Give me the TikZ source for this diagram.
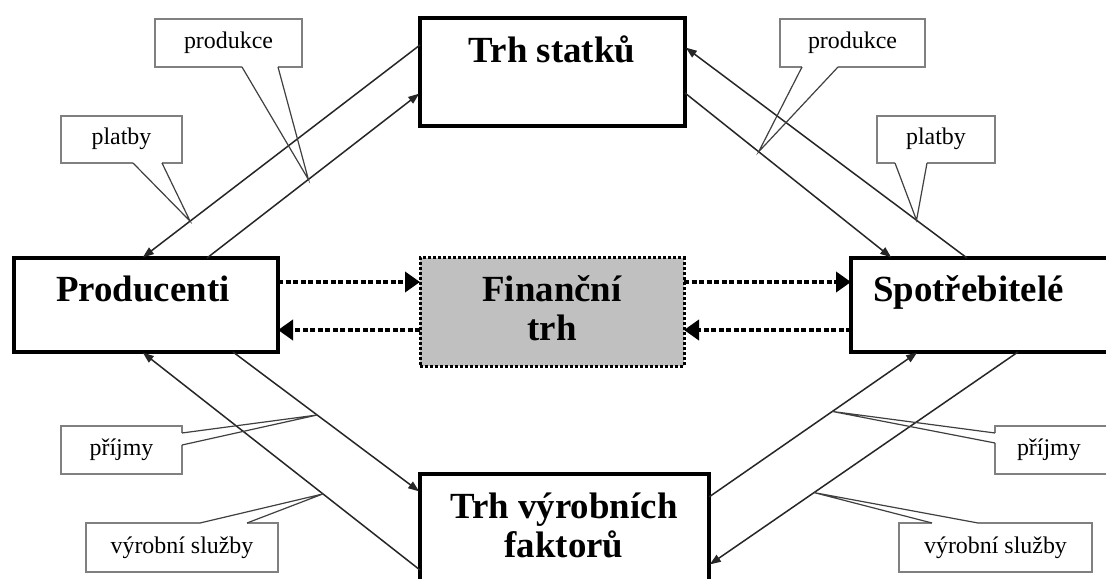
\documentclass[tikz,border=0pt]{standalone}
\usepackage{fontspec}
\setmainfont{Liberation Serif}
\usetikzlibrary{arrows.meta}
\definecolor{fingray}{HTML}{C0C0C0}
\definecolor{callgray}{HTML}{808080}
\begin{document}
\begin{tikzpicture}[x=1bp,y=-1bp,
  mainbox/.style={draw=black, line width=3.5bp, fill=white, inner sep=0pt, outer sep=0pt, anchor=north west},
  big/.style={font=\fontsize{37}{38}\selectfont\bfseries, inner sep=0pt},
  small/.style={font=\fontsize{24}{26}\selectfont, text height=16bp, text depth=5bp},
  callout/.style={draw=callgray, line width=2.5bp, fill=white, inner sep=0pt, outer sep=0pt, anchor=north west, small},
  flow/.style={draw=black!85, line width=1.5bp, -{Triangle[length=11bp,width=8bp]}},
  fin/.style={draw=black, line width=4bp, dash pattern=on 5bp off 2.5bp, -{Triangle[length=15bp,width=20bp]}},
  wedge/.style={draw=black!75, line width=1.2bp},
  gap/.style={draw=white, line width=3.2bp}]
\useasboundingbox (0,0) rectangle (1106,579);
\clip (0,0) rectangle (1106,579);
\fill[white] (0,0) rectangle (1106,579);

% main boxes
\node[mainbox, minimum width=265bp, minimum height=108bp] (ts) at (420,18) {};
\node[mainbox, minimum width=264bp, minimum height=94bp] (pr) at (14,258) {};
\node[mainbox, minimum width=264bp, minimum height=108bp, fill=fingray, line width=3bp, dash pattern=on 3bp off 2bp] (fn) at (420,258) {};
\node[mainbox, minimum width=270bp, minimum height=94bp] (sp) at (851,258) {};
\node[mainbox, minimum width=289bp, minimum height=130bp] (tv) at (420,474) {};

% flows
\draw[flow, shorten >=1bp] ([yshift=-27bp]ts.north west) -- coordinate[pos=0.827] (t1) ([xshift=128bp]pr.north west);
\draw[flow, shorten >=1bp] ([xshift=193bp]pr.north west) -- coordinate[pos=0.476] (t2) ([yshift=-75bp]ts.north west);
\draw[flow, shorten >=1bp] ([xshift=116bp]sp.north west) -- coordinate[pos=0.179] (t3) ([yshift=-29bp]ts.north east);
\draw[flow, shorten >=1bp] ([yshift=-75bp]ts.north east) -- coordinate[pos=0.356] (t4) ([xshift=41bp]sp.north west);
\draw[flow, shorten >=1bp] ([yshift=-96bp]tv.north west) -- coordinate[pos=0.349] (t5) ([xshift=128bp]pr.south west);
\draw[flow, shorten >=1bp] ([xshift=219bp]pr.south west) -- coordinate[pos=0.45] (t6) ([yshift=-18bp]tv.north west);
\draw[flow, shorten >=1bp] ([yshift=-23bp]tv.north east) -- coordinate[pos=0.59] (t7) ([xshift=67bp]sp.south west);
\draw[flow, shorten >=1bp] ([xshift=167bp]sp.south west) -- coordinate[pos=0.66] (t8) ([yshift=-91bp]tv.north east);

% financial flows
\coordinate (yA) at (552,282);
\coordinate (yB) at (552,330);
\draw[fin] (pr.east |- yA) -- (fn.west |- yA);
\draw[fin] (fn.west |- yB) -- (pr.east |- yB);
\draw[fin] (fn.east |- yA) -- (sp.west |- yA);
\draw[fin] (sp.west |- yB) -- (fn.east |- yB);

% texts in main boxes
\node[big, anchor=base] (tsl) at (552,63) {Trh statků};
\node[big, anchor=base] (prl) at (143,302) {Producenti};
\node[big, anchor=base] (fnl1) at (552,302) {Finanční};
\node[big, anchor=base] (fnl2) at (552,340) {trh};
\node[big, anchor=base west] (spl) at (873,302) {Spotřebitelé};
\node[big, anchor=base] (tvl1) at (564,518) {Trh výrobních};
\node[big, anchor=base] (tvl2) at (564,557) {faktorů};

% callouts
\node[callout, minimum width=147bp, minimum height=48bp] (cpL) at (155,19) {produkce};
\draw[gap] ([xshift=87bp]cpL.south west) -- ([xshift=123bp]cpL.south west);
\draw[wedge] ([xshift=87bp]cpL.south west) -- (t2) -- ([xshift=123bp]cpL.south west);

\node[callout, minimum width=121bp, minimum height=47bp] (cbL) at (61,116) {platby};
\draw[gap] ([xshift=72bp]cbL.south west) -- ([xshift=101bp]cbL.south west);
\draw[wedge] ([xshift=72bp]cbL.south west) -- (t1) -- ([xshift=101bp]cbL.south west);

\node[callout, minimum width=145bp, minimum height=48bp] (cpR) at (780,19) {produkce};
\draw[gap] ([xshift=22bp]cpR.south west) -- ([xshift=58bp]cpR.south west);
\draw[wedge] ([xshift=22bp]cpR.south west) -- (t4) -- ([xshift=58bp]cpR.south west);

\node[callout, minimum width=118bp, minimum height=47bp] (cbR) at (877,116) {platby};
\draw[gap] ([xshift=18bp]cbR.south west) -- ([xshift=50bp]cbR.south west);
\draw[wedge] ([xshift=18bp]cbR.south west) -- (t3) -- ([xshift=50bp]cbR.south west);

\node[callout, minimum width=121bp, minimum height=48bp] (cjL) at (61,426) {příjmy};
\draw[gap] ([yshift=-7bp]cjL.north east) -- ([yshift=-19bp]cjL.north east);
\draw[wedge] ([yshift=-7bp]cjL.north east) -- (t6) -- ([yshift=-19bp]cjL.north east);

\node[callout, minimum width=192bp, minimum height=49bp] (csL) at (86,523) {výrobní služby};
\draw[gap] ([xshift=114bp]csL.north west) -- ([xshift=161bp]csL.north west);
\draw[wedge] ([xshift=114bp]csL.north west) -- (t5) -- ([xshift=161bp]csL.north west);

\node[callout, minimum height=48bp, text width=86bp, align=left, inner xsep=22bp] (cjR) at (995,426) {příjmy};
\draw[gap] ([yshift=-7bp]cjR.north west) -- ([yshift=-17bp]cjR.north west);
\draw[wedge] ([yshift=-7bp]cjR.north west) -- (t7) -- ([yshift=-17bp]cjR.north west);

\node[callout, minimum width=193bp, minimum height=49bp] (csR) at (899,523) {výrobní služby};
\draw[gap] ([xshift=33bp]csR.north west) -- ([xshift=79bp]csR.north west);
\draw[wedge] ([xshift=33bp]csR.north west) -- (t8) -- ([xshift=79bp]csR.north west);
\end{tikzpicture}
\end{document}
